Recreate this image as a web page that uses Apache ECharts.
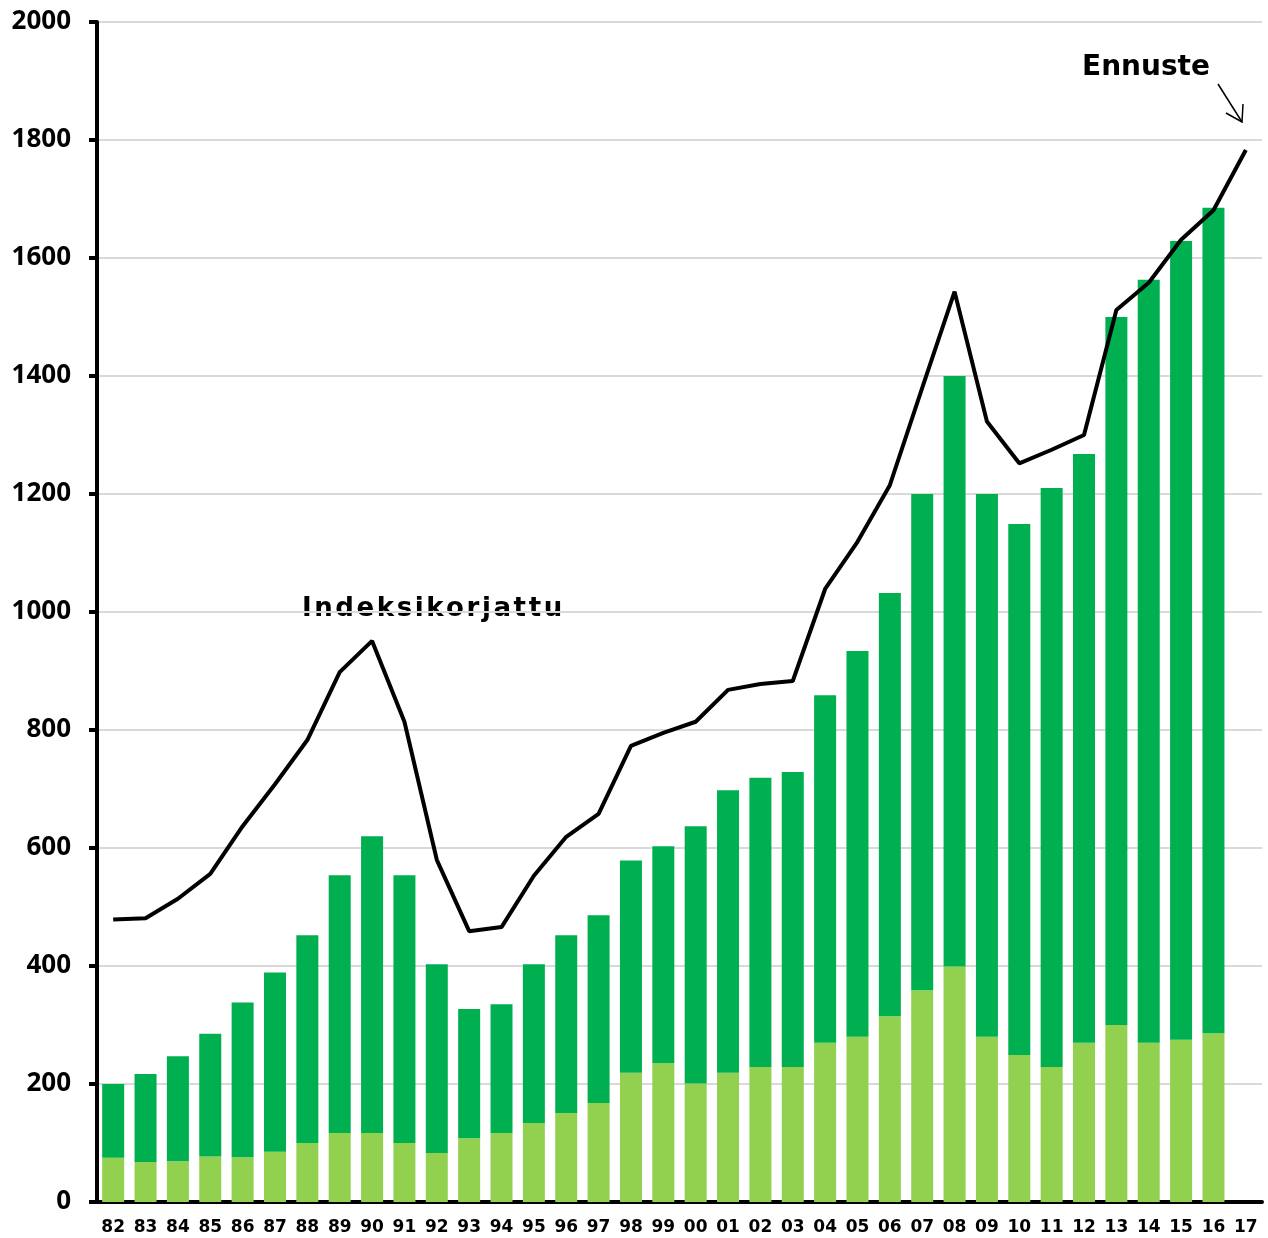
<!DOCTYPE html>
<html>
<head>
<meta charset="utf-8">
<script src="https://cdn.jsdelivr.net/npm/echarts@6/dist/echarts.min.js"></script>
<style>
  html, body { margin: 0; padding: 0; background: #fff; }
  #c1 { width: 1268px; height: 1238px; }
</style>
</head>
<body>
<div id="c1"></div>
<script>
const years = ['82','83','84','85','86','87','88','89','90','91','92','93','94','95','96','97','98','99',
  '00','01','02','03','04','05','06','07','08','09','10','11','12','13','14','15','16','17']
// bar totals (dark top edge) and light green bottom part
const totals = [200, 217, 247, 285, 338, 389, 452, 554, 620, 554, 403, 327, 335, 403, 452, 486, 579, 603,
  637, 698, 719, 729, 859, 934, 1032, 1200, 1400, 1200, 1149, 1210, 1268, 1500, 1563, 1629, 1685, null]
const lower = [75, 68, 69, 77, 76, 85, 100, 117, 117, 100, 83, 108, 117, 134, 151, 168, 219, 235,
  201, 219, 229, 229, 270, 280, 315, 359, 399, 280, 249, 229, 270, 300, 270, 275, 286, null]
// index-corrected line
const indexed = [479, 481, 514, 556, 637, 708, 783, 898, 951, 814, 580, 459, 466, 553, 619, 658, 773, 795,
  814, 868, 878, 883, 1039, 1119, 1215, 1380, 1543, 1323, 1252, 1275, 1300, 1512, 1558, 1631, 1681, 1783]
const yTicks = [0, 200, 400, 600, 800, 1000, 1200, 1400, 1600, 1800, 2000]

const upper = totals.map((t, i) => t == null ? null : t - lower[i])

const myChart = echarts.init(document.getElementById('c1'))
const option = {
  animation: false,
  grid: { left: 97, right: 6, top: 22, bottom: 36 },
  xAxis: {
    type: 'category',
    data: years,
    axisLine: { lineStyle: { color: '#000', width: 4 } },
    axisTick: { show: false },
    axisLabel: {
      interval: 0, hideOverlap: false,
      color: '#000', fontFamily: 'DejaVu Sans', fontWeight: 'bold', fontSize: 17, margin: 17
    }
  },
  yAxis: {
    type: 'value',
    min: yTicks[0],
    max: yTicks[yTicks.length - 1],
    interval: 200,
    axisLine: { show: true, lineStyle: { color: '#000', width: 4 } },
    axisTick: { show: true, length: 8, lineStyle: { color: '#000', width: 4 } },
    axisLabel: {
      color: '#000', fontFamily: 'Open Sans', fontWeight: 'bold', fontSize: 26, margin: 26,
      formatter: v => String(v)
    },
    splitLine: { lineStyle: { color: '#d9d9d9', width: 2 } }
  },
  series: [
    {
      type: 'bar', stack: 'a', data: lower, barWidth: '68%',
      itemStyle: { color: '#92d050' }
    },
    {
      type: 'bar', stack: 'a', data: upper, barWidth: '68%',
      itemStyle: { color: '#00b050' }
    },
    {
      type: 'line', data: indexed, symbol: 'none', z: 5,
      lineStyle: { color: '#000', width: 4 }
    }
  ],
  graphic: [
    {
      type: 'text', left: 302, top: 596,
      style: { text: 'Indeksikorjattu'.split('').join('\u200A'), fill: '#000', font: 'bold 26px "DejaVu Sans"' }
    },
    {
      type: 'text', left: 1082, top: 54,
      style: { text: 'Ennuste', fill: '#000', font: 'bold 28px "DejaVu Sans"' }
    },
    {
      type: 'line', shape: { x1: 1218, y1: 84, x2: 1242, y2: 122 },
      style: { stroke: '#000', lineWidth: 1.5 }
    },
    {
      type: 'polyline', shape: { points: [[1226, 113], [1242, 122], [1243, 104]] },
      style: { stroke: '#000', lineWidth: 1.5, fill: null }
    }
  ]
}
myChart.setOption(option)
</script>
</body>
</html>
